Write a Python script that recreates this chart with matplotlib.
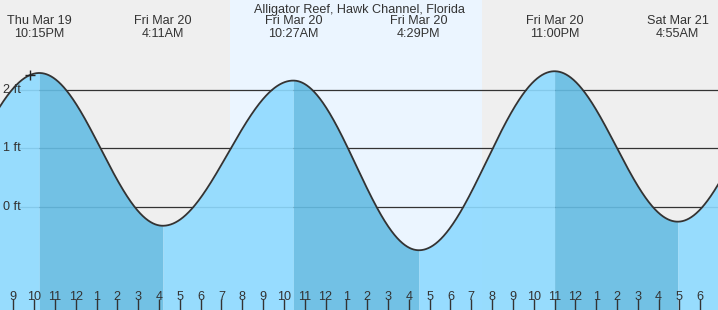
import numpy as np
import matplotlib
matplotlib.use("Agg")
import matplotlib.pyplot as plt
from matplotlib.transforms import blended_transform_factory

# ---- data (hours since Thu Mar 19 00:00) ----
extreme_hours = [16.0, 22.25, 28.183, 34.45, 40.483, 47.0, 52.917, 58.75]
extreme_heights = [-0.45, 2.29, -0.33, 2.16, -0.75, 2.32, -0.26, 2.30]
extreme_types = ['L', 'H', 'L', 'H', 'L', 'H', 'L', 'H']

label_hours = [22.25, 28.183, 34.45, 40.483, 47.0, 52.917]
label_days = ["Thu Mar 19", "Fri Mar 20", "Fri Mar 20", "Fri Mar 20", "Fri Mar 20", "Sat Mar 21"]
label_times = ["10:15PM", "4:11AM", "10:27AM", "4:29PM", "11:00PM", "4:55AM"]

sunrise_hour = 31.42
sunset_hour = 43.52
now_hour = 21.8

hour_ticks = list(range(21, 55))
midnight_ticks = [24, 48]
level_ticks = [0, 1, 2]
level_labels = ["0 ft", "1 ft", "2 ft"]

title = "Alligator Reef, Hawk Channel, Florida"

# ---- style ----
FONT = "Liberation Sans"
FS = 9.1
TXT = "#333333"
W, H, DPI = 718, 310, 100
XLIM = (20.36, 54.85)
YLIM = (-1.775, 3.542)

fig = plt.figure(figsize=(W / DPI, H / DPI), dpi=DPI)
ax = fig.add_axes([0, 0, 1, 1])
ax.set_xlim(*XLIM)
ax.set_ylim(*YLIM)
ax.set_facecolor("#efefef")
for s in ax.spines.values():
    s.set_visible(False)

ax.axvspan(sunrise_hour, sunset_hour, color="#ebf5ff", zorder=0, lw=0)

# level lines
for lv in level_ticks:
    ax.axhline(lv, xmin=20 / W, xmax=1, color="#333333", lw=0.9, zorder=1)

def tide(t):
    et = np.array(extreme_hours)
    eh = np.array(extreme_heights)
    out = np.empty_like(t)
    for i, tt in enumerate(t):
        j = np.searchsorted(et, tt) - 1
        j = min(max(j, 0), len(et) - 2)
        t0, t1, h0, h1 = et[j], et[j + 1], eh[j], eh[j + 1]
        out[i] = (h0 + h1) / 2 + (h0 - h1) / 2 * np.cos(np.pi * (tt - t0) / (t1 - t0))
    return out

t_all = np.linspace(extreme_hours[0], extreme_hours[-1], 3000)
h_all = tide(t_all)

for i in range(len(extreme_hours) - 1):
    ts = np.linspace(extreme_hours[i], extreme_hours[i + 1], 400)
    hs = tide(ts)
    col = "#65bce3" if extreme_types[i] == 'H' else "#8edaff"
    ax.fill_between(ts, hs, YLIM[0], color=col, alpha=0.9, lw=0, zorder=2)

ax.plot(t_all, h_all, color="#333333", lw=1.3, zorder=3)
ax.plot([now_hour], tide(np.array([now_hour])), marker="+", color="#222222",
        ms=7, mew=1.0, zorder=4)

# level labels
ty = blended_transform_factory(ax.transAxes, ax.transData)
for lv, lab in zip(level_ticks, level_labels):
    ax.text(3 / W, lv, lab, transform=ty, ha="left", va="center",
            fontsize=FS, family=FONT, color=TXT, zorder=5)

# top labels
tx = blended_transform_factory(ax.transData, ax.transAxes)
ax.text(0.5, 1 - 12.5 / H, title, transform=ax.transAxes, ha="center",
        va="baseline", fontsize=FS, family=FONT, color=TXT, zorder=5)
for hx, d, tm in zip(label_hours, label_days, label_times):
    ax.text(hx, 1 - 24.5 / H, d, transform=tx, ha="center", va="baseline",
            fontsize=FS, family=FONT, color=TXT, zorder=5)
    ax.text(hx, 1 - 37 / H, tm, transform=tx, ha="center", va="baseline",
            fontsize=FS, family=FONT, color=TXT, zorder=5)

# hour ticks
ax.set_xticks(hour_ticks)
ax.set_xticklabels([str((h - 1) % 12 + 1) for h in hour_ticks])
ax.set_xticks(midnight_ticks, minor=True)
ax.tick_params(axis="x", which="major", direction="in", length=8, width=1,
               color="#333333", pad=-13.5, labelsize=FS, labelcolor=TXT)
ax.tick_params(axis="x", which="minor", direction="in", length=8, width=3,
               color="#333333")
for lab in ax.get_xticklabels():
    lab.set_family(FONT)
ax.set_yticks([])
for t in ax.xaxis.get_major_ticks() + ax.xaxis.get_minor_ticks():
    t.tick1line.set_zorder(6)
ax.set_axisbelow(False)

fig.savefig("out.png", dpi=DPI)
